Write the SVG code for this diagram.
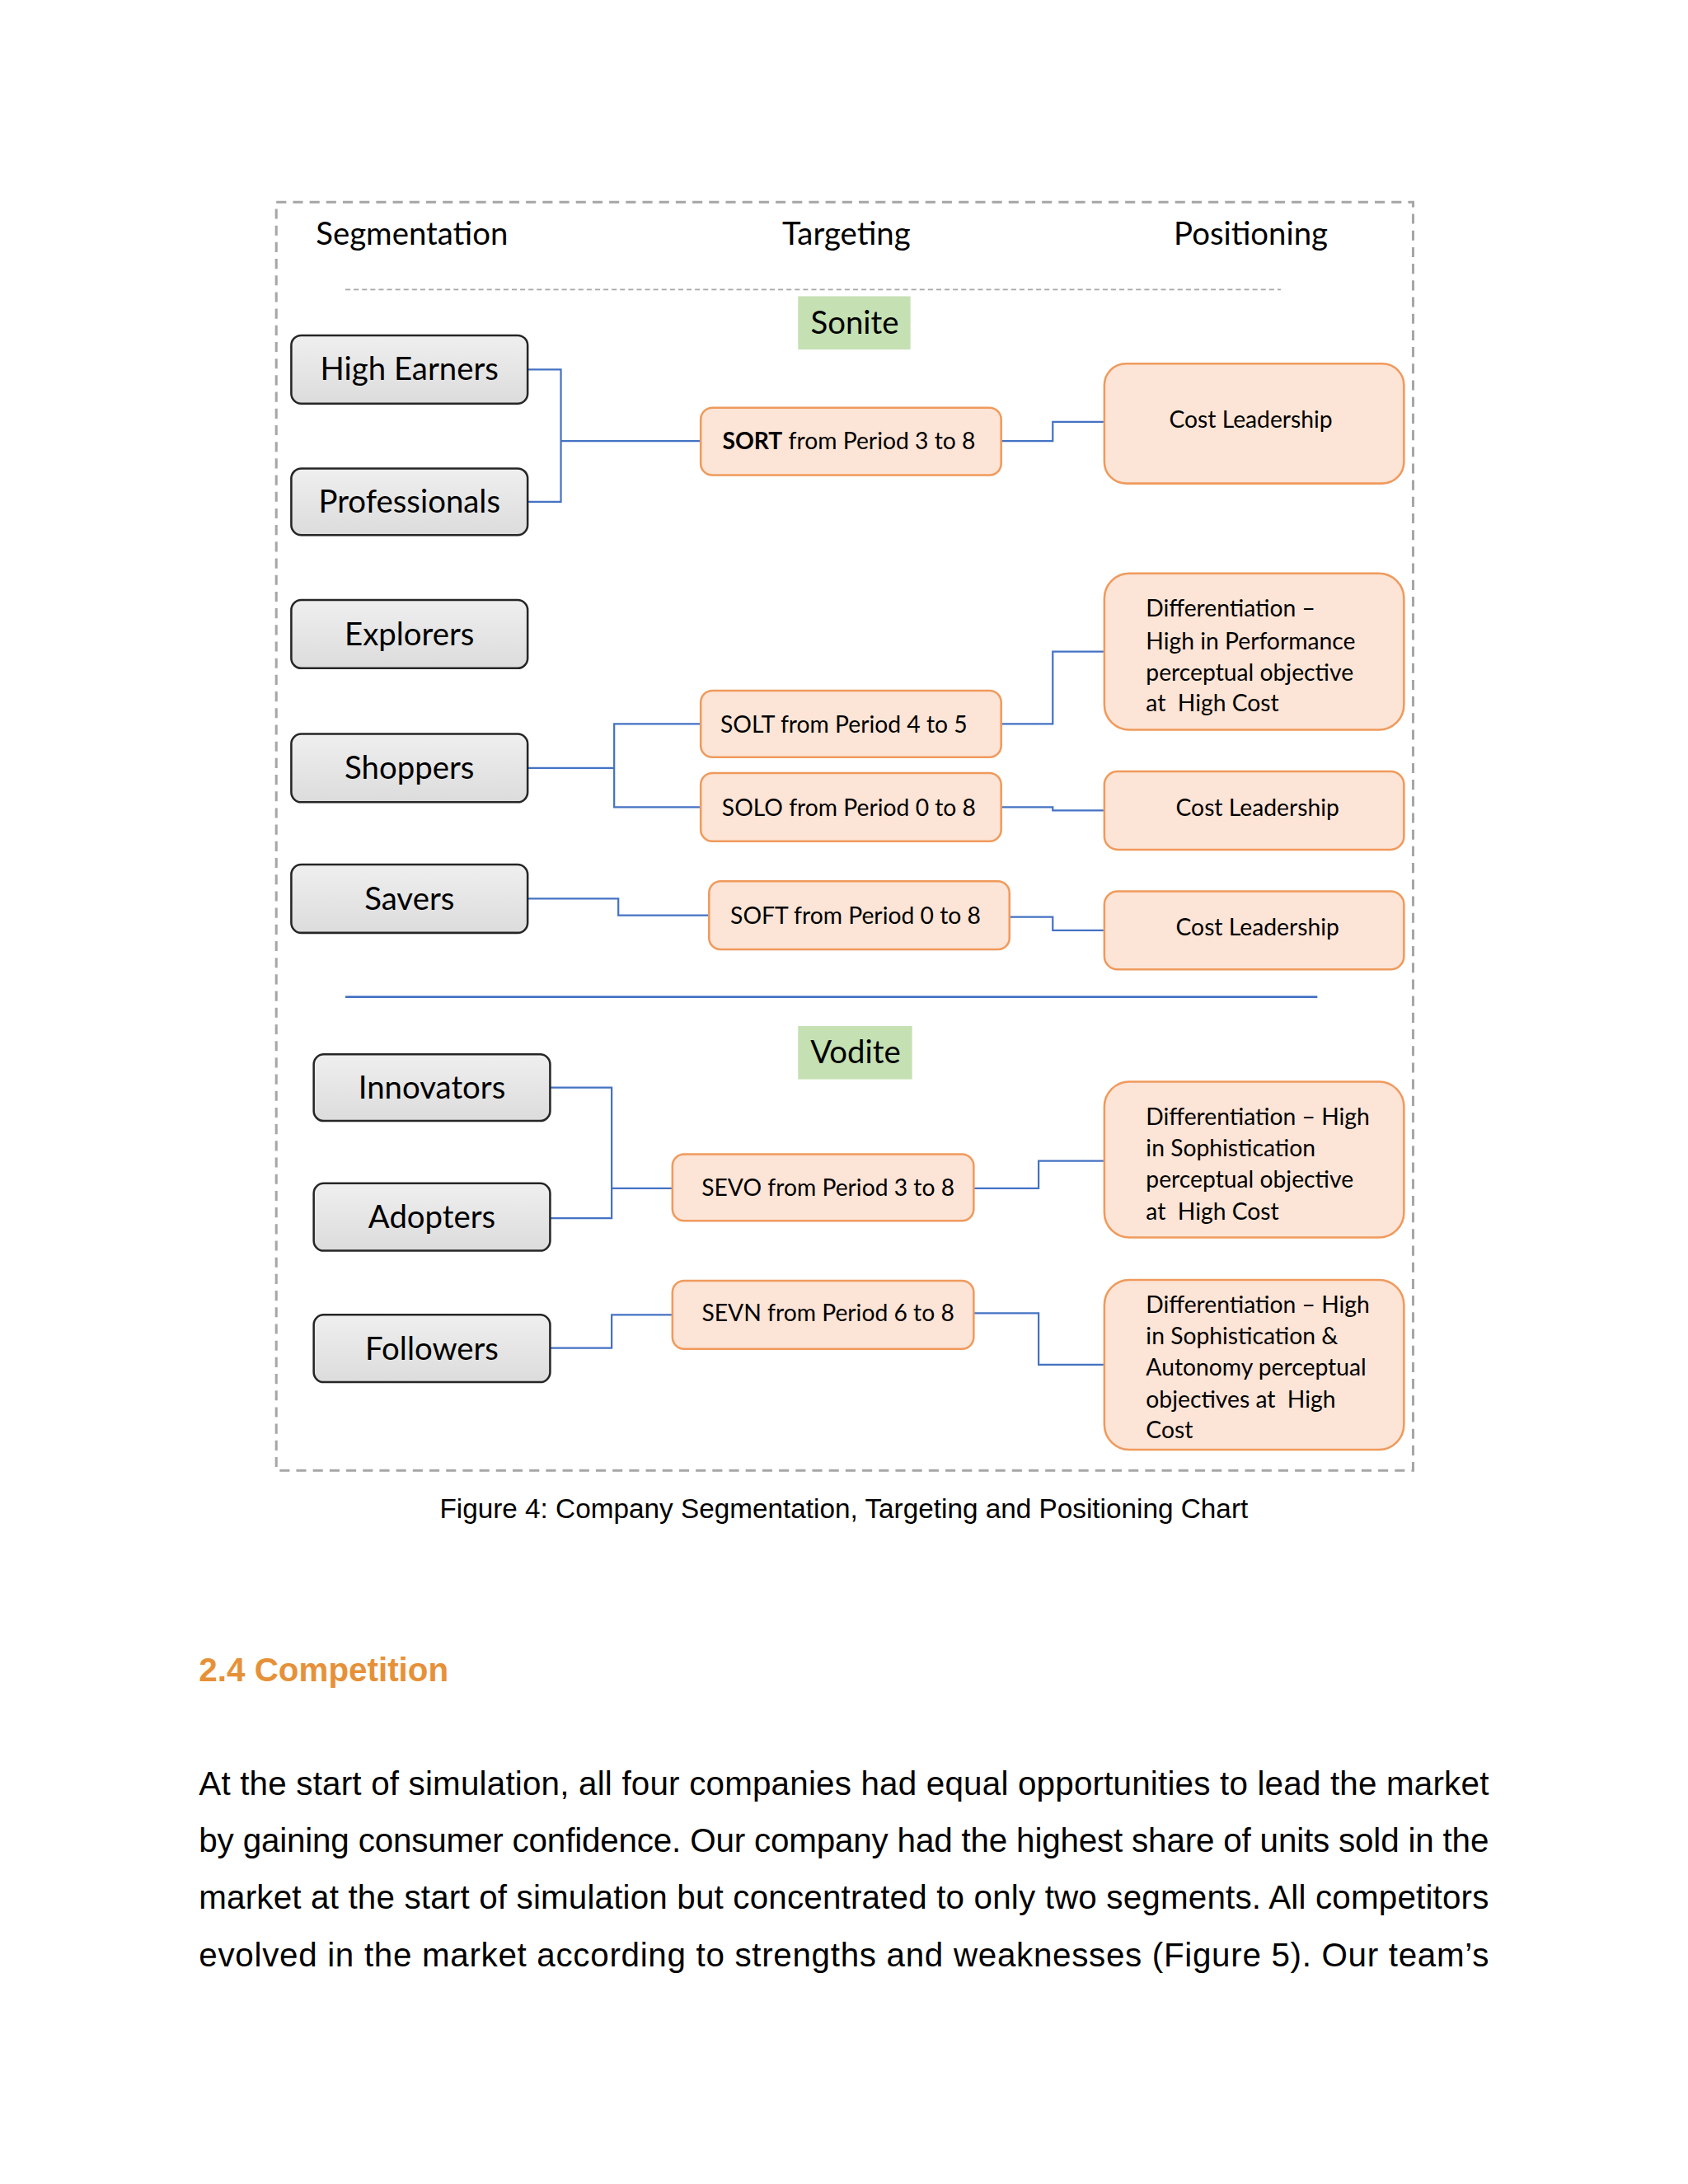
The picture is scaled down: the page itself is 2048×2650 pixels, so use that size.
<svg xmlns="http://www.w3.org/2000/svg" width="2048" height="2650" viewBox="0 0 2048 2650">
<defs>
<linearGradient id="gg" x1="0" y1="0" x2="0" y2="1">
<stop offset="0" stop-color="#efefef"/>
<stop offset="1" stop-color="#dcdcdc"/>
</linearGradient>
<style>
.seg rect{fill:url(#gg);stroke:#262626;stroke-width:2.5}
.tgt rect{fill:#fce4d6;stroke:#f09a5c;stroke-width:2.5}
.pos rect{fill:#fce4d6;stroke:#f09a5c;stroke-width:2.5}
.lbl{font-family:Lato,"Liberation Sans",sans-serif;font-size:38px;fill:#000;text-anchor:middle}
.tt{font-family:Lato,"Liberation Sans",sans-serif;font-size:28px;fill:#000;text-anchor:middle}
.pt{font-family:Lato,"Liberation Sans",sans-serif;font-size:28px;fill:#000}
.grn{fill:#c5e0b3}
.conn path{fill:none;stroke:#4472c4;stroke-width:2.2}
.body{font-family:"Liberation Sans",Arial,sans-serif;font-size:40px;fill:#000}
</style>
</defs>
<rect width="2048" height="2650" fill="#ffffff"/>
<g id="page" transform="scale(1.0097)">

<!-- frame -->
<rect x="332" y="243" width="1366" height="1524" fill="none" stroke="#a6a6a6" stroke-width="3" stroke-dasharray="12 8"/>
<line x1="415" y1="348" x2="1539" y2="348" stroke="#a6a6a6" stroke-width="1.5" stroke-dasharray="6 4"/>
<line x1="415" y1="1198" x2="1583" y2="1198" stroke="#4472c4" stroke-width="2.5"/>

<!-- headers -->
<g id="headers">
<text class="lbl" x="495" y="294">Segmentation</text>
<text class="lbl" x="1017" y="294">Targeting</text>
<text class="lbl" x="1503" y="294">Positioning</text>
</g>

<g id="sonite">
<rect class="grn" x="959" y="356" width="135" height="64"/>
<text class="lbl" x="1027" y="401">Sonite</text>
</g>
<g id="vodite">
<rect class="grn" x="959" y="1233" width="137" height="64"/>
<text class="lbl" x="1028" y="1278">Vodite</text>
</g>

<!-- connectors -->
<g id="connectors" class="conn">
<path d="M634 444 H674 V603 H634"/>
<path d="M674 530 H842"/>
<path d="M1203 530 H1265 V507 H1327"/>
<path d="M634 923 H738"/>
<path d="M842 870 H738 V970 H842"/>
<path d="M1203 870 H1265 V783 H1327"/>
<path d="M1203 970 H1265 V974 H1327"/>
<path d="M634 1080 H743 V1100 H852"/>
<path d="M1213 1102 H1265 V1118 H1327"/>
<path d="M661 1307 H735 V1464 H661"/>
<path d="M735 1428 H808"/>
<path d="M1170 1428 H1248 V1395 H1327"/>
<path d="M661 1620 H735 V1580 H808"/>
<path d="M1170 1578 H1248 V1640 H1327"/>
</g>

<!-- segmentation -->
<g id="high-earners" class="seg"><rect x="350" y="403" width="284" height="82" rx="12"/><text class="lbl" x="492" y="457">High Earners</text></g>
<g id="professionals" class="seg"><rect x="350" y="563" width="284" height="80" rx="12"/><text class="lbl" x="492" y="616">Professionals</text></g>
<g id="explorers" class="seg"><rect x="350" y="721" width="284" height="82" rx="12"/><text class="lbl" x="492" y="775">Explorers</text></g>
<g id="shoppers" class="seg"><rect x="350" y="882" width="284" height="82" rx="12"/><text class="lbl" x="492" y="936">Shoppers</text></g>
<g id="savers" class="seg"><rect x="350" y="1039" width="284" height="82" rx="12"/><text class="lbl" x="492" y="1093">Savers</text></g>
<g id="innovators" class="seg"><rect x="377" y="1267" width="284" height="80" rx="12"/><text class="lbl" x="519" y="1320">Innovators</text></g>
<g id="adopters" class="seg"><rect x="377" y="1422" width="284" height="81" rx="12"/><text class="lbl" x="519" y="1476">Adopters</text></g>
<g id="followers" class="seg"><rect x="377" y="1580" width="284" height="81" rx="12"/><text class="lbl" x="519" y="1634">Followers</text></g>

<!-- targeting -->
<g id="sort" class="tgt"><rect x="842" y="490" width="361" height="81" rx="14"/><text class="tt" x="1020" y="540"><tspan font-weight="bold">SORT</tspan> from Period 3 to 8</text></g>
<g id="solt" class="tgt"><rect x="842" y="830" width="361" height="80" rx="14"/><text class="tt" x="1014" y="880">SOLT from Period 4 to 5</text></g>
<g id="solo" class="tgt"><rect x="842" y="929" width="361" height="82" rx="14"/><text class="tt" x="1020" y="980">SOLO from Period 0 to 8</text></g>
<g id="soft" class="tgt"><rect x="852" y="1059" width="361" height="82" rx="14"/><text class="tt" x="1028" y="1110">SOFT from Period 0 to 8</text></g>
<g id="sevo" class="tgt"><rect x="808" y="1387" width="362" height="80" rx="14"/><text class="tt" x="995" y="1437">SEVO from Period 3 to 8</text></g>
<g id="sevn" class="tgt"><rect x="808" y="1539" width="362" height="82" rx="14"/><text class="tt" x="995" y="1588">SEVN from Period 6 to 8</text></g>

<!-- positioning -->
<g id="cost-leadership-1" class="pos"><rect x="1327" y="437" width="360" height="144" rx="26"/><text class="tt" x="1503" y="514">Cost Leadership</text></g>
<g id="diff-performance" class="pos"><rect x="1327" y="689" width="360" height="188" rx="30"/>
<text class="pt" x="1377" y="741">Differentiation –</text>
<text class="pt" x="1377" y="780">High in Performance</text>
<text class="pt" x="1377" y="818">perceptual objective</text>
<text class="pt" x="1377" y="855">at&#160; High Cost</text></g>
<g id="cost-leadership-2" class="pos"><rect x="1327" y="927" width="360" height="94" rx="16"/><text class="tt" x="1511" y="980">Cost Leadership</text></g>
<g id="cost-leadership-3" class="pos"><rect x="1327" y="1071" width="360" height="94" rx="16"/><text class="tt" x="1511" y="1124">Cost Leadership</text></g>
<g id="diff-sophistication" class="pos"><rect x="1327" y="1300" width="360" height="187" rx="30"/>
<text class="pt" x="1377" y="1352">Differentiation – High</text>
<text class="pt" x="1377" y="1390">in Sophistication</text>
<text class="pt" x="1377" y="1427">perceptual objective</text>
<text class="pt" x="1377" y="1466">at&#160; High Cost</text></g>
<g id="diff-sophistication-autonomy" class="pos"><rect x="1327" y="1538" width="360" height="204" rx="30"/>
<text class="pt" x="1377" y="1578">Differentiation – High</text>
<text class="pt" x="1377" y="1615">in Sophistication &amp;</text>
<text class="pt" x="1377" y="1653">Autonomy perceptual</text>
<text class="pt" x="1377" y="1692">objectives at&#160; High</text>
<text class="pt" x="1377" y="1728">Cost</text></g>

<!-- caption & text -->
<text x="1014" y="1824" font-family="'Liberation Sans',Arial,sans-serif" font-size="33" text-anchor="middle" fill="#000">Figure 4: Company Segmentation, Targeting and Positioning Chart</text>
<text x="239" y="2020" font-family="'Liberation Sans',Arial,sans-serif" font-size="40" font-weight="bold" fill="#e69138">2.4 Competition</text>
<text class="body" x="239" y="2157" textLength="1550" lengthAdjust="spacing">At the start of simulation, all four companies had equal opportunities to lead the market</text>
<text class="body" x="239" y="2225" textLength="1550" lengthAdjust="spacing">by gaining consumer confidence. Our company had the highest share of units sold in the</text>
<text class="body" x="239" y="2294" textLength="1550" lengthAdjust="spacing">market at the start of simulation but concentrated to only two segments. All competitors</text>
<text class="body" x="239" y="2363" textLength="1550" lengthAdjust="spacing">evolved in the market according to strengths and weaknesses (Figure 5). Our team’s</text>
</g>
</svg>
